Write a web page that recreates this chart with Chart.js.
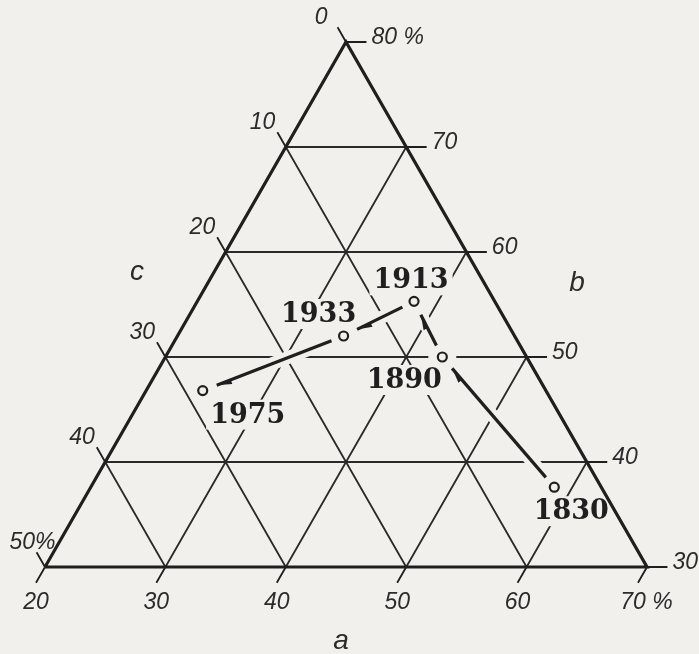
<!DOCTYPE html>
<html>
<head>
<meta charset="utf-8">
<script src="https://cdn.jsdelivr.net/npm/chart.js@4.4.1/dist/chart.umd.min.js"></script>
<style>
  html, body { margin: 0; padding: 0; background: #f1f0ec; }
  #chart { display: block; }
</style>
</head>
<body>
<canvas id="chart" width="699" height="654"></canvas>
<script>
// Ternary diagram of the shares a, b, c (%) over the years

const years = ['1830', '1890', '1913', '1933', '1975'];
const shareA = [58.5, 43.0, 38.0, 33.8, 24.7];
const shareB = [37.6, 50.0, 55.3, 52.0, 46.8];
const shareC = [3.9, 7.0, 6.7, 14.2, 28.5];

const aTicks = [20, 30, 40, 50, 60, 70];
const bTicks = [30, 40, 50, 60, 70, 80];
const cTicks = [0, 10, 20, 30, 40, 50];
const aTickLabels = ['20', '30', '40', '50', '60', '70 %'];
const bTickLabels = ['30', '40', '50', '60', '70', '80 %'];
const cTickLabels = ['0', '10', '20', '30', '40', '50%'];

const A_MIN = 20, B_MIN = 30, SPAN = 50;
const H = Math.sqrt(3) / 2;
const PAPER = '#f1f0ec';
const INK = '#1f1f1f';
const TICK_FONT = 'italic 23px "Liberation Sans", Arial, sans-serif';
const YEAR_FONT = 'bold 27px "DejaVu Serif", serif';

// where each year label sits relative to its point (px)
const yearLabelShift = [[17, 24], [-38, 23], [-3, -21], [-25, -22], [45, 24]];

// a and b fix the position, c is the rest of 100
function toXY(a, b, c) {
    if (c === undefined) c = 100 - a - b;
    const s = (a + b + c) / 100;
    const u = a / s - A_MIN, v = b / s - B_MIN;
    return { x: u + v / 2, y: v * H };
}

function joinSegments(segs) {
    const out = [];
    segs.forEach(([p, q], i) => {
        if (i) out.push({ x: NaN, y: NaN });
        out.push(p, q);
    });
    return out;
}

// grid lines inside the triangle
const gridSegs = [];
aTicks.slice(1, -1).forEach(a => gridSegs.push([toXY(a, 30), toXY(a, 100 - a)]));
bTicks.slice(1, -1).forEach(b => gridSegs.push([toXY(20, b), toXY(100 - b, b)]));
cTicks.slice(1, -1).forEach(c => gridSegs.push([toXY(20, 80 - c), toXY(70 - c, 30)]));

// short ticks sticking out of each side
const tickSegs = [];
aTicks.forEach(a => tickSegs.push([toXY(a, 30), toXY(a, 28.5)]));
bTicks.forEach(b => tickSegs.push([toXY(100 - b, b), toXY(101.7 - b, b)]));
cTicks.forEach(c => tickSegs.push([toXY(20, 80 - c), toXY(18.6, 81.4 - c)]));

const border = [toXY(20, 30), toXY(70, 30), toXY(20, 80), toXY(20, 30)];
const points = years.map((y, i) => toXY(shareA[i], shareB[i], shareC[i]));

function lineSet(data, width, order, color) {
    return {
        data, showLine: true, pointRadius: 0, borderWidth: width,
        borderColor: color || INK, clip: false, spanGaps: false, order
    };
}

const TICK_IDX = 2, POINT_IDX = 3;

function unit(p, q) {
    const dx = q.x - p.x, dy = q.y - p.y, len = Math.hypot(dx, dy);
    return { x: dx / len, y: dy / len };
}

const ternaryDecor = {
    id: 'ternaryDecor',
    beforeDraw(chart) {
        const ctx = chart.ctx;
        ctx.save();
        ctx.fillStyle = PAPER;
        ctx.fillRect(0, 0, chart.width, chart.height);
        ctx.restore();
    },
    // clear the grid around the trend lines, points and year labels
    beforeDatasetDraw(chart, args) {
        if (args.index !== TICK_IDX) return;
        const ctx = chart.ctx;
        const pts = chart.getDatasetMeta(POINT_IDX).data;
        ctx.save();
        ctx.strokeStyle = PAPER;
        ctx.fillStyle = PAPER;
        ctx.lineWidth = 13;
        ctx.lineCap = 'round';
        for (let i = 0; i < pts.length - 1; i++) {
            ctx.beginPath();
            ctx.moveTo(pts[i].x, pts[i].y);
            ctx.lineTo(pts[i + 1].x, pts[i + 1].y);
            ctx.stroke();
        }
        pts.forEach(p => {
            ctx.beginPath();
            ctx.arc(p.x, p.y, 14, 0, Math.PI * 2);
            ctx.fill();
        });
        ctx.font = YEAR_FONT;
        pts.forEach((p, i) => {
            const w = ctx.measureText(years[i]).width;
            const cx = p.x + yearLabelShift[i][0], cy = p.y + yearLabelShift[i][1];
            ctx.fillRect(cx - w / 2 - 4, cy - 15, w + 8, 30);
        });
        ctx.restore();
    },
    afterDatasetsDraw(chart) {
        const ctx = chart.ctx;
        const { x: xs, y: ys } = chart.scales;
        const pts = chart.getDatasetMeta(POINT_IDX).data;
        const area = chart.chartArea;
        ctx.save();

        // trend lines with half arrow heads
        ctx.strokeStyle = INK;
        ctx.fillStyle = INK;
        ctx.lineWidth = 3.2;
        ctx.lineCap = 'butt';
        for (let i = 0; i < pts.length - 1; i++) {
            const p = pts[i], q = pts[i + 1];
            const d = unit(p, q);
            const s = { x: p.x + d.x * 13, y: p.y + d.y * 13 };
            const e = { x: q.x - d.x * 15, y: q.y - d.y * 15 };
            ctx.beginPath();
            ctx.moveTo(s.x, s.y);
            ctx.lineTo(e.x, e.y);
            ctx.stroke();
            const side = { x: d.y, y: -d.x };
            ctx.beginPath();
            ctx.moveTo(e.x, e.y);
            ctx.lineTo(e.x - d.x * 15 + side.x * 4.5, e.y - d.y * 15 + side.y * 4.5);
            ctx.lineTo(e.x - d.x * 15, e.y - d.y * 15);
            ctx.closePath();
            ctx.fill();
        }

        // year labels
        ctx.font = YEAR_FONT;
        ctx.textAlign = 'center';
        ctx.textBaseline = 'middle';
        pts.forEach((p, i) => {
            ctx.fillText(years[i], p.x + yearLabelShift[i][0], p.y + yearLabelShift[i][1] + 1);
        });

        // tick labels at the outer end of each tick
        const ends = tickSegs.map(([, q]) => ({ x: xs.getPixelForValue(q.x), y: ys.getPixelForValue(q.y) }));
        ctx.font = TICK_FONT;
        ctx.fillStyle = '#2b2b2b';
        ctx.textBaseline = 'middle';
        const n = aTicks.length;
        aTickLabels.forEach((t, i) => {
            const e = ends[i];
            const num = t.replace(/\s*%/, '');
            ctx.textAlign = 'left';
            ctx.fillText(t, e.x - ctx.measureText(num).width / 2 - (t !== num ? 5 : 0), e.y + 20);
        });
        bTickLabels.forEach((t, i) => {
            const e = ends[n + i];
            ctx.textAlign = 'left';
            ctx.fillText(t, e.x + 5, e.y - 4);
        });
        cTickLabels.forEach((t, i) => {
            const e = ends[2 * n + i];
            let dx = -2;
            if (t === '0') dx = -10;
            if (t === '50%') dx = 19;
            ctx.textAlign = 'right';
            ctx.fillText(t, e.x + dx, e.y - 10);
        });

        // side names
        ctx.font = 'italic 28px "Liberation Sans", Arial, sans-serif';
        ctx.textAlign = 'center';
        ctx.fillText('a', (area.left + area.right) / 2 - 5, area.bottom + 74);
        ctx.fillText('b', area.right - 70, area.top + 241);
        ctx.fillText('c', area.left + 92, area.top + 230);
        ctx.restore();
    }
};

new Chart(document.getElementById('chart'), {
    type: 'scatter',
    data: {
        datasets: [
            lineSet(joinSegments(gridSegs), 1.8, 5, '#2a2a2a'),
            lineSet(border, 3.2, 2),
            lineSet(joinSegments(tickSegs), 1.8, 3),
            {
                data: points, showLine: false, pointRadius: 4.5, pointBorderWidth: 2.2,
                pointBorderColor: INK, pointBackgroundColor: PAPER, clip: false, order: 1
            }
        ]
    },
    options: {
        responsive: false,
        animation: false,
        devicePixelRatio: 1,
        events: [],
        layout: { padding: { left: 45, right: 52, top: 42, bottom: 87 } },
        plugins: { legend: { display: false }, tooltip: { enabled: false } },
        scales: {
            x: { type: 'linear', min: 0, max: SPAN, display: false },
            y: { type: 'linear', min: 0, max: SPAN * H, display: false }
        }
    },
    plugins: [ternaryDecor]
});
</script>
</body>
</html>
